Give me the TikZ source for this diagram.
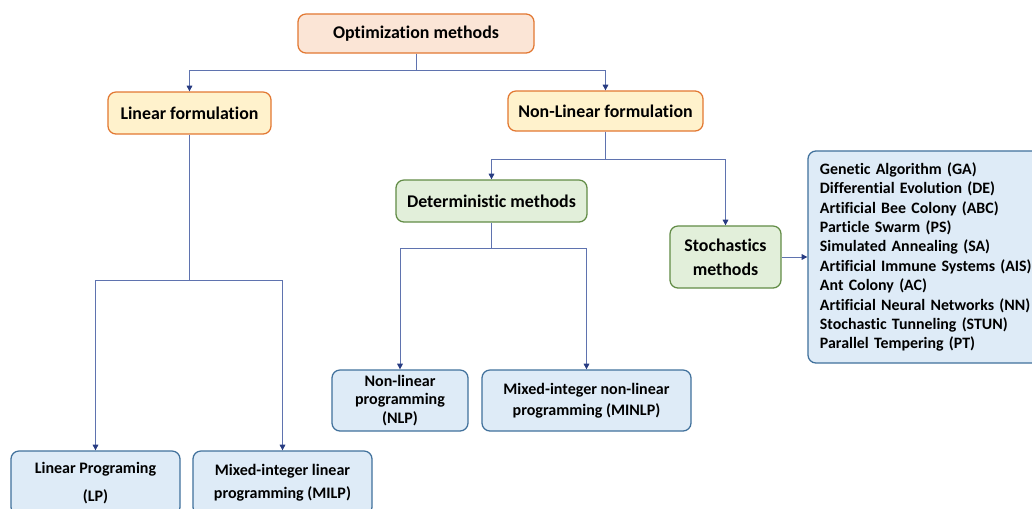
\documentclass[tikz,border=0pt]{standalone}
\usepackage{fontspec}
\setmainfont[Ligatures=NoCommon]{Carlito}
\usetikzlibrary{positioning, arrows.meta}
\definecolor{optfill}{RGB}{251,229,214}
\definecolor{optline}{RGB}{226,120,50}
\definecolor{linfill}{RGB}{255,242,204}
\definecolor{detfill}{RGB}{226,239,218}
\definecolor{detline}{RGB}{98,140,70}
\definecolor{algfill}{RGB}{222,235,247}
\definecolor{algline}{RGB}{65,113,156}
\definecolor{conline}{RGB}{95,115,175}
\definecolor{tipcol}{RGB}{40,60,130}

\begin{document}
\begin{tikzpicture}[x=0.025cm, y=-0.025cm,
    box/.style={draw, line width=0.9pt, rounded corners=0.2cm, align=center,
                inner sep=2pt, font=\fontsize{12.7}{15}\selectfont\bfseries},
    topbox/.style={box, fill=optfill, draw=optline},
    formbox/.style={box, fill=linfill, draw=optline},
    methbox/.style={box, fill=detfill, draw=detline},
    leafbox/.style={box, fill=algfill, draw=algline,
                    font=\fontsize{11.4}{13.2}\selectfont\bfseries},
    conn/.style={draw=conline, line width=0.6pt,
                 -{Triangle[length=4pt, width=4pt, color=tipcol]}}]
  \clip (0,0) rectangle (1032,508);

  \node[topbox, minimum width=5.9cm, minimum height=0.975cm] (opt) at (416,33.5) {Optimization methods};
  \node[formbox, minimum width=4.075cm, minimum height=1.05cm] (lin) at (189.5,113) {Linear formulation};
  \node[formbox, minimum width=4.875cm, minimum height=1cm] (nlin) at (605.5,111) {Non-Linear formulation};
  \node[methbox, minimum width=4.775cm, minimum height=1.05cm] (det) at (491.5,201) {Deterministic methods};
  \node[methbox, minimum width=2.775cm, minimum height=1.55cm] (sto) at (725.5,257) {Stochastics\\[2pt]methods};

  % list of stochastic algorithms
  \node[leafbox, minimum width=5.9cm, minimum height=5.3cm, text width=5.3cm, align=left,
        inner xsep=0.3cm, font=\fontsize{11.3}{13.8}\selectfont\bfseries] (alg) at (926,257) {%
    Genetic Algorithm (GA)\\
    Differential Evolution (DE)\\
    Artificial Bee Colony (ABC)\\
    Particle Swarm (PS)\\
    Simulated Annealing (SA)\\
    Artificial Immune Systems (AIS)\\
    Ant Colony (AC)\\
    Artificial Neural Networks (NN)\\
    Stochastic Tunneling (STUN)\\
    Parallel Tempering (PT)};

  \node[leafbox, minimum width=3.4cm, minimum height=1.525cm] (nlp) at (400,400.5) {Non-linear\\programming\\(NLP)};
  \node[leafbox, minimum width=5.225cm, minimum height=1.525cm] (minlp) at (586.5,400.5) {Mixed-integer non-linear\\[2pt]programming (MINLP)};
  \node[leafbox, minimum width=4.225cm, minimum height=1.6cm] (lp) at (95.5,483) {Linear Programing\\[7pt](LP)};
  \node[leafbox, minimum width=4.475cm, minimum height=1.6cm] (milp) at (282.5,483) {Mixed-integer linear\\[3pt]programming (MILP)};

  \draw[conn] (opt.south) -- ++(0,17) -| (lin.north);
  \draw[conn] (opt.south) -- ++(0,17) -| (nlin.north);
  \draw[conn] (lin.south) -- ++(0,146) -| (lp.north);
  \draw[conn] (lin.south) -- ++(0,146) -| (milp.north);
  \draw[conn] (nlin.south) -- ++(0,28) -| (det.north);
  \draw[conn] (nlin.south) -- ++(0,28) -| (sto.north);
  \draw[conn] (det.south) -- ++(0,26) -| (nlp.north);
  \draw[conn] (det.south) -- ++(0,26) -| (minlp.north);
  \draw[conn] (sto.east) -- (alg.west);
\end{tikzpicture}
\end{document}
